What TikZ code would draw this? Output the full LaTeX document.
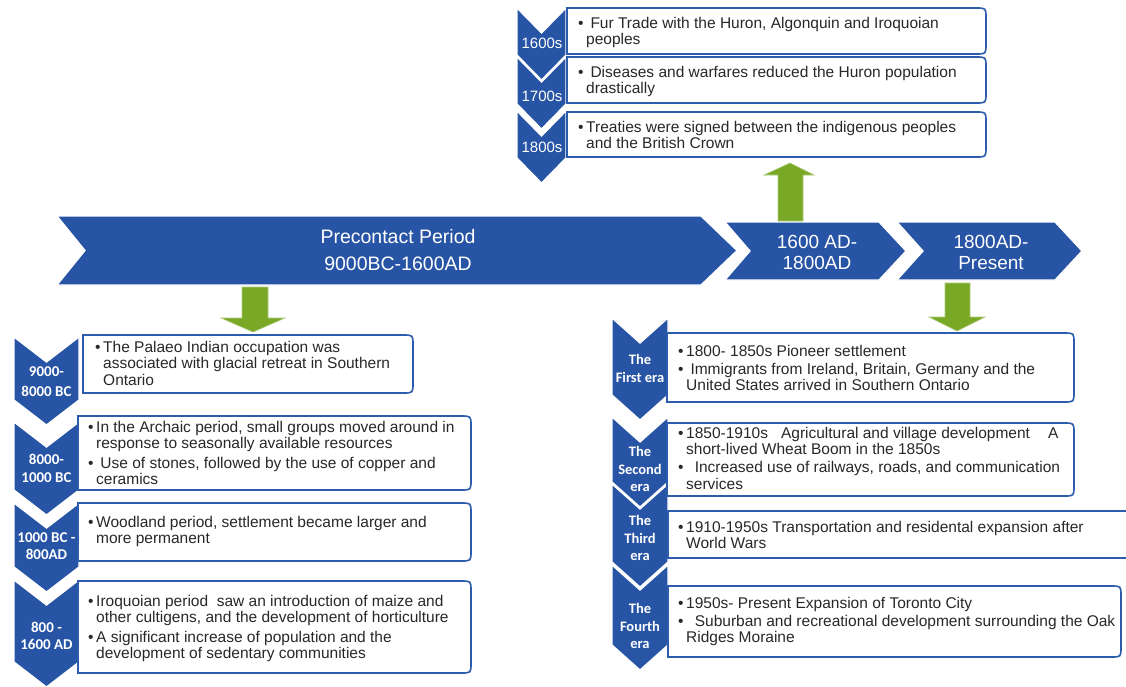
\documentclass[tikz,border=0pt]{standalone}
\usepackage{fontspec}
\setmainfont{Liberation Sans}
\newfontfamily\calfont{Carlito}
\definecolor{chevblue}{RGB}{39,84,164}
\definecolor{boxblue}{RGB}{44,92,172}
\definecolor{arrgreen}{RGB}{120,168,38}
\definecolor{txt}{RGB}{40,40,40}
\tikzset{
  chev/.style={fill=chevblue, draw=white, line width=1.3pt, line join=miter},
  infobox/.style={draw=boxblue, fill=white, line width=1.6pt},
  garrow/.style={fill=arrgreen, draw=arrgreen!60!white, line width=0.6pt},
  bodytext/.style={anchor=north west, inner sep=0pt, align=left, text=txt, font=\fontsize{15.5}{16.5}\selectfont},
  chevlab/.style={text=white, inner sep=0pt, align=center, font=\calfont\bfseries\fontsize{14.5}{17.5}\selectfont},
  toplab/.style={text=white, inner sep=0pt, font=\fontsize{15}{17}\selectfont},
  barlab/.style={text=white, inner sep=0pt, align=center},
}
% vertical chevron: x-left, x-right, top, side-bottom, depth
\newcommand{\vchevron}[5]{\path[chev] (#1,#3) -- ({(#1+#2)/2},{#3+#5}) -- (#2,#3) -- (#2,#4) -- ({(#1+#2)/2},{#4+#5}) -- (#1,#4) -- cycle;}
% horizontal chevron: x-left, x-notch, x-topright, x-tip, top, bottom
\newcommand{\hchevron}[6]{\path[chev] (#1,#5) -- (#3,#5) -- (#4,{(#5+#6)/2}) -- (#3,#6) -- (#1,#6) -- (#2,{(#5+#6)/2}) -- cycle;}
% box with rounded right corners: x-left, x-right, top, bottom
\newcommand{\infob}[4]{\path[infobox] (#1,#3) -- ({#2-10},#3) .. controls (#2,#3) .. (#2,{#3+10}) -- (#2,{#4-10}) .. controls (#2,#4) .. ({#2-10},#4) -- (#1,#4) -- cycle;}
\newcommand{\bul}{\makebox[8pt][l]{\textbullet}}
\newcommand{\ind}{\hspace*{8pt}}
\newcommand{\fst}{\rule{0pt}{12pt}}
\begin{document}
\begin{tikzpicture}[x=1pt,y=-1pt]
\useasboundingbox (0,0) rectangle (1126,686);
\clip (0,0) rectangle (1126,686);
\fill[white] (0,0) rectangle (1126,686);

% ---------------- top list ----------------
\vchevron{517}{566}{8}{55}{25}
\node[toplab] (l1600) at (542,43) {1600s};
\vchevron{517}{566}{57}{104}{25}
\node[toplab] (l1700) at (542,96) {1700s};
\vchevron{517}{566}{111}{158}{25}
\node[toplab] (l1800) at (542,147) {1800s};
\infob{567}{986}{8}{54}
\infob{567}{986}{57}{103}
\infob{567}{986}{112}{157}
\node[bodytext] (t1) at (578,16) {\fst\bul\ Fur Trade with the Huron, Algonquin and Iroquoian\\\ind peoples};
\node[bodytext] (t2) at (578,65) {\fst\bul\ Diseases and warfares reduced the Huron population\\\ind drastically};
\node[bodytext] (t3) at (578,120) {\fst\bul Treaties were signed between the indigenous peoples\\\ind and the British Crown};

% ---------------- main bars ----------------
\hchevron{57}{85}{701}{737}{216}{285}
\hchevron{725}{750}{879}{906}{222}{280}
\hchevron{897}{923}{1055}{1082}{222}{280}
\node[barlab, font=\fontsize{19.5}{26.5}\selectfont] (pre) at (398,250) {Precontact Period\\9000BC-1600AD};
\node[barlab, font=\fontsize{19}{21}\selectfont] (mid) at (817,252) {1600 AD-\\1800AD};
\node[barlab, font=\fontsize{19}{21}\selectfont] (pres) at (991,252) {1800AD-\\Present};

% ---------------- green arrows ----------------
\path[garrow] (778,221) -- (778,175) -- (764,175) -- (790,163) -- (814,175) -- (803,175) -- (803,221) -- cycle;
\path[garrow] (242,287) -- (268,287) -- (268,318) -- (285,318) -- (253,332) -- (221,318) -- (242,318) -- cycle;
\path[garrow] (945,283) -- (970,283) -- (970,317) -- (985,317) -- (957,331) -- (929,317) -- (945,317) -- cycle;

% ---------------- left list ----------------
\vchevron{14}{79}{337}{400}{25}
\node[chevlab, font=\calfont\bfseries\fontsize{15}{20}\selectfont] (p1) at (46.5,382) {9000-\\8000 BC};
\vchevron{14}{79}{422}{490}{25}
\node[chevlab, font=\calfont\bfseries\fontsize{15}{18}\selectfont] (p2) at (46.5,468) {8000-\\1000 BC};
\vchevron{14}{79}{503}{567}{25}
\node[chevlab, font=\calfont\bfseries\fontsize{15}{17}\selectfont] (p3) at (46.5,546.5) {1000 BC -\\800AD};
\vchevron{14}{79}{580}{662}{25}
\node[chevlab, font=\calfont\bfseries\fontsize{15}{17}\selectfont] (p4) at (46.5,635.5) {800 -\\1600 AD};
\infob{83}{413}{335}{393}
\infob{78}{471}{416}{490}
\infob{78}{471}{503}{561}
\infob{78}{471}{581}{673}
\node[bodytext] (b1) at (95,340) {\fst\bul The Palaeo Indian occupation was\\\ind associated with glacial retreat in Southern\\\ind Ontario};
\node[bodytext] (b2) at (88,420) {\fst\bul In the Archaic period, small groups moved around in\\\ind response to seasonally available resources\\[3pt]\bul\ Use of stones, followed by the use of copper and\\\ind ceramics};
\node[bodytext] (b3) at (88,515) {\fst\bul Woodland period, settlement became larger and\\\ind more permanent};
\node[bodytext] (b4) at (88,594) {\fst\bul Iroquoian period\ \ saw an introduction of maize and\\\ind other cultigens, and the development of horticulture\\[3pt]\bul A significant increase of population and the\\\ind development of sedentary communities};

% ---------------- right list ----------------
\vchevron{612}{668}{318}{395}{25}
\node[chevlab] (e1) at (640,368.5) {The\\First era};
\vchevron{612}{668}{417}{482}{25}
\node[chevlab] (e2) at (640,469) {The\\Second\\era};
\vchevron{612}{668}{484}{562}{25}
\node[chevlab] (e3) at (640,538) {The\\Third\\era};
\vchevron{612}{668}{565}{645}{25}
\node[chevlab] (e4) at (640,626) {The\\Fourth\\era};
\infob{667}{1074}{333}{402}
\infob{667}{1074}{423}{496}
\infob{668}{1140}{511}{558}
\infob{668}{1121}{586}{657}
\node[bodytext] (r1) at (678,344) {\fst\bul 1800- 1850s Pioneer settlement\\[1.5pt]\bul\ Immigrants from Ireland, Britain, Germany and the\\\ind United States arrived in Southern Ontario};
\node[bodytext] (r2) at (678,426) {\fst\bul 1850-1910s\hspace{13pt}Agricultural and village development\hspace{18pt}A\\\ind short-lived Wheat Boom in the 1850s\\[1.5pt]\bul\ \ Increased use of railways, roads, and communication\\\ind services};
\node[bodytext] (r3) at (678,520) {\fst\bul 1910-1950s Transportation and residental expansion after\\\ind World Wars};
\node[bodytext] (r4) at (678,596) {\fst\bul 1950s- Present Expansion of Toronto City\\[1.5pt]\bul\ \ Suburban and recreational development surrounding the Oak\\\ind Ridges Moraine};
\end{tikzpicture}
\end{document}
